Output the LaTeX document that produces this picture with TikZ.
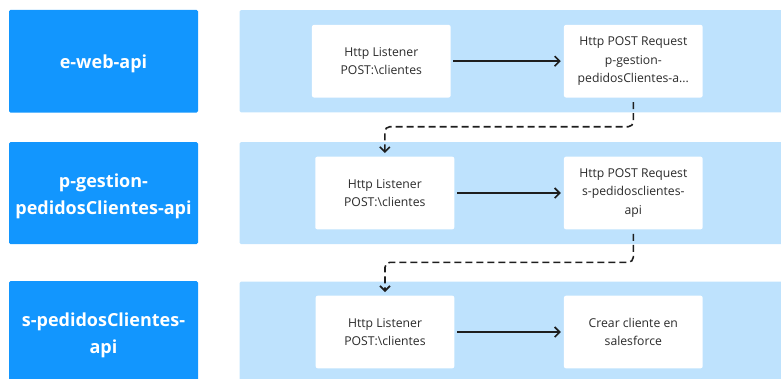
\documentclass[tikz,border=0pt]{standalone}
\usepackage{fontspec}
\setmainfont{Open Sans}
\usetikzlibrary{arrows.meta}
\definecolor{apiblue}{HTML}{1296FE}
\definecolor{lanefill}{HTML}{BEE2FD}
\definecolor{steptext}{HTML}{2B2B2B}
\definecolor{linkcol}{HTML}{1E1E1E}
\tikzset{
  apibox/.style={fill=apiblue, rounded corners=1.5pt, minimum width=189pt, inner sep=0pt},
  apitext/.style={text=white, font=\fontsize{18}{26.7}\selectfont\bfseries, align=center, inner sep=0pt},
  lane/.style={fill=lanefill, rounded corners=1.5pt},
  stepbox/.style={fill=white, rounded corners=2pt, minimum width=138.7pt, minimum height=72.6pt,
    text=steptext, font=\fontsize{12.2}{18.7}\selectfont, align=center, inner sep=0pt},
  barb/.style={-{Straight Barb[length=5pt,width=10pt,line width=1.6pt]}},
  flow/.style={draw=linkcol, line width=1.6pt, barb, shorten <=2.5pt, shorten >=3pt},
  handoff/.style={draw=linkcol, line width=1.6pt, dash pattern=on 7pt off 4pt, rounded corners=5pt,
    barb, shorten <=4.4pt, shorten >=3.5pt}
}
\begin{document}
\begin{tikzpicture}[x=1pt, y=-1pt]
\useasboundingbox (0,0) rectangle (781,378);

% swim lanes
\fill[lane] (239.5,10) rectangle (800,112.3);
\fill[lane] (239.5,142) rectangle (800,244);
\fill[lane] (239.5,281.5) rectangle (800,390);

% API labels
\node[apibox, minimum height=102.7pt] (a1) at (103.5,61.3) {};
\node[apibox, minimum height=102pt] (a2) at (103.5,193) {};
\node[apibox, minimum height=102pt] (a3) at (103.5,332) {};
\node[apitext] (a1t) at ([yshift=-3pt]a1.center) {e-web-api};
\node[apitext] (a2t) at ([yshift=-3pt]a2.center) {p-gestion-\\pedidosClientes-api};
\node[apitext] (a3t) at ([yshift=-3pt]a3.center) {s-pedidosClientes-\\api};

% row 1
\node[stepbox] (l1) at (381.3,61.2) {Http Listener\\POST:\textbackslash clientes};
\node[stepbox] (r1) at (633.3,61.2) {Http POST Request\\p-gestion-\\pedidosClientes-a...};
% row 2
\node[stepbox, minimum width=139pt] (l2) at (384.8,193) {Http Listener\\POST:\textbackslash clientes};
\node[stepbox] (r2) at (633.3,193) {Http POST Request\\s-pedidosclientes-\\api};
% row 3
\node[stepbox, minimum width=138.6pt] (l3) at (385,332) {Http Listener\\POST:\textbackslash clientes};
\node[stepbox] (r3) at (633.3,332) {Crear cliente en\\salesforce};

% calls inside each application
\draw[flow] (l1) -- (r1);
\draw[flow] (l2) -- (r2);
\draw[flow] (l3) -- (r3);

% calls between applications
\coordinate (m1) at (500,126.7);
\coordinate (m2) at (500,262.3);
\draw[handoff] (r1.south) |- (m1) -| (l2.north);
\draw[handoff] (r2.south) |- (m2) -| (l3.north);
\end{tikzpicture}
\end{document}
